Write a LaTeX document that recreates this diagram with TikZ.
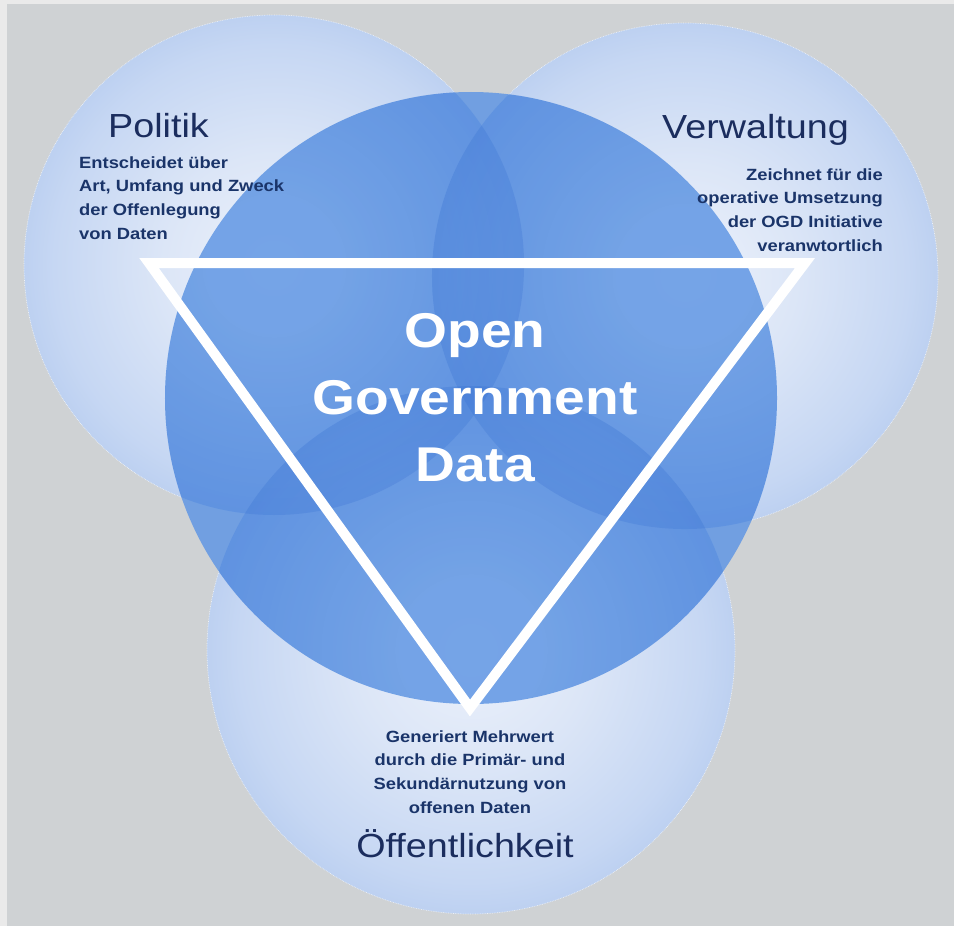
\documentclass[tikz,border=0pt]{standalone}
\usepackage{fontspec}
\setmainfont{Liberation Sans}
\usetikzlibrary{fadings}
\definecolor{bggray}{RGB}{207,210,212}
\definecolor{bgedge}{RGB}{234,234,234}
\definecolor{oc0}{RGB}{236,241,251}
\definecolor{oc1}{RGB}{220,230,247}
\definecolor{oc2}{RGB}{198,215,243}
\definecolor{oc3}{RGB}{174,198,238}
\definecolor{oc4}{RGB}{150,182,234}
\definecolor{centralblue}{RGB}{97,151,228}
\definecolor{rimblue}{RGB}{40,100,205}
\definecolor{headnavy}{RGB}{27,45,94}
\definecolor{descnavy}{RGB}{26,52,105}
\pgfdeclareradialshading{outerglow}{\pgfpointorigin}{color(0bp)=(oc0); color(11bp)=(oc1); color(22bp)=(oc2); color(30bp)=(oc3); color(35.4bp)=(oc4); color(50bp)=(oc4)}
\pgfdeclareradialshading{rimshade}{\pgfpointorigin}{color(0bp)=(pgftransparent!100); color(7bp)=(pgftransparent!100); color(35.4bp)=(pgftransparent!68); color(50bp)=(pgftransparent!68)}
\pgfdeclarefading{rimfade}{\pgfuseshading{rimshade}}
\newcommand\hstr[1]{\scalebox{1.13}[1]{#1}}
\tikzset{
  head/.style={inner sep=0pt, text=headnavy, font={\fontsize{33.5}{40}\selectfont}},
  desc/.style={inner sep=0pt, text=descnavy, font={\fontsize{16.3}{24}\selectfont\bfseries}},
  ogdtext/.style={inner sep=0pt, text=white, font={\fontsize{49}{67.5}\selectfont\bfseries}},
  outerdisc/.style={shading=outerglow},
  rimlayer/.style={fill=rimblue, path fading=rimfade},
  rimline/.style={draw=white, draw opacity=0.7, line width=0.7bp, densely dotted},
  tri/.style={draw=white, line width=10bp, line join=miter}
}
\begin{document}
\begin{tikzpicture}[x=1bp, y=-1bp]
\useasboundingbox (0,0) rectangle (954,926);
\fill[bgedge] (0,0) rectangle (954,926);
\fill[bggray] (7,4) rectangle (954,926);

% outer circles
\shade[outerdisc] (274,265) circle (250bp);
\shade[outerdisc] (685,276) circle (253bp);
\shade[outerdisc] (471,650) circle (264bp);

% central circle
\fill[centralblue, fill opacity=0.85] (471,398) circle (306bp);

% rims of outer circles seen through the central circle
\begin{scope}
  \clip (471,398) circle (306bp);
  \path[rimlayer] (274,265) circle (250bp);
  \path[rimlayer] (685,276) circle (253bp);
  \path[rimlayer] (471,650) circle (264bp);
\end{scope}

% faint light outlines outside the central circle
\begin{scope}[even odd rule]
  \clip (0,0) rectangle (954,926) (471,398) circle (306bp);
  \path[rimline] (274,265) circle (250bp);
  \path[rimline] (685,276) circle (253bp);
  \path[rimline] (471,650) circle (264bp);
\end{scope}

% triangle
\coordinate (tl) at (149,263);
\coordinate (tr) at (805,263);
\coordinate (bt) at (470,708);
\draw[tri] (tl) -- (tr) -- (bt) -- cycle;

% texts
\node[head, anchor=base west] (politik) at (108,137) {\hstr{Politik}};
\node[desc, anchor=base west] (politikdesc) at (79,168) {\hstr{\begin{tabular}[t]{@{}l@{}}Entscheidet über\\Art, Umfang und Zweck\\der Offenlegung\\von Daten\end{tabular}}};

\node[head, anchor=base east] (verwaltung) at (849,138) {\hstr{Verwaltung}};
\node[desc, anchor=base east] (verwaltungdesc) at (883,180) {\hstr{\begin{tabular}[t]{@{}r@{}}Zeichnet für die\\operative Umsetzung\\der OGD Initiative\\veranwtortlich\end{tabular}}};

\node[ogdtext, anchor=base] (ogd) at (475,347) {\hstr{\begin{tabular}[t]{@{}c@{}}Open\\Government\\Data\end{tabular}}};

\node[desc, anchor=base] (oeffdesc) at (470,742) {\hstr{\begin{tabular}[t]{@{}c@{}}Generiert Mehrwert\\durch die Primär- und\\Sekundärnutzung von\\offenen Daten\end{tabular}}};
\node[head, anchor=base] (oeff) at (465,857) {\hstr{Öffentlichkeit}};
\end{tikzpicture}
\end{document}
